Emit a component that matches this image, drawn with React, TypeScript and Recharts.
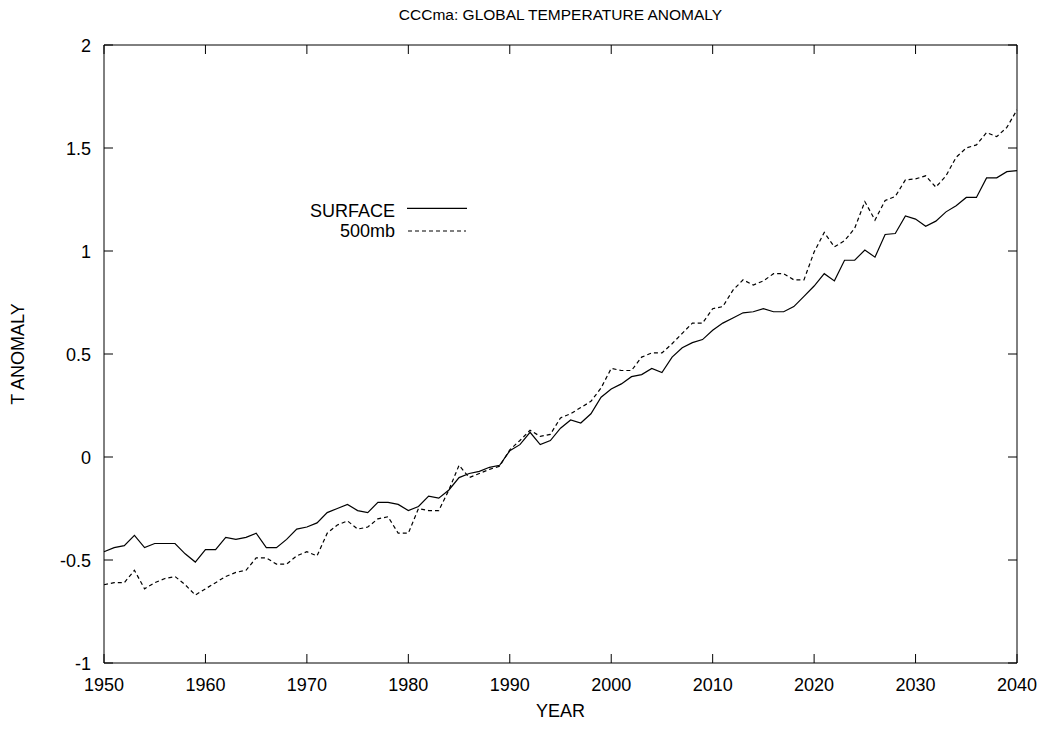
import { LineChart, Line, XAxis, YAxis, Legend, Label } from "recharts";

// years 1950..2040, one value per year for each level
const years = [
  1950, 1951, 1952, 1953, 1954, 1955, 1956, 1957, 1958, 1959,
  1960, 1961, 1962, 1963, 1964, 1965, 1966, 1967, 1968, 1969,
  1970, 1971, 1972, 1973, 1974, 1975, 1976, 1977, 1978, 1979,
  1980, 1981, 1982, 1983, 1984, 1985, 1986, 1987, 1988, 1989,
  1990, 1991, 1992, 1993, 1994, 1995, 1996, 1997, 1998, 1999,
  2000, 2001, 2002, 2003, 2004, 2005, 2006, 2007, 2008, 2009,
  2010, 2011, 2012, 2013, 2014, 2015, 2016, 2017, 2018, 2019,
  2020, 2021, 2022, 2023, 2024, 2025, 2026, 2027, 2028, 2029,
  2030, 2031, 2032, 2033, 2034, 2035, 2036, 2037, 2038, 2039,
  2040,
];

const surface = [
  -0.46, -0.44, -0.43, -0.38, -0.44, -0.42, -0.42, -0.42, -0.47, -0.51,
  -0.45, -0.45, -0.39, -0.4, -0.39, -0.37, -0.44, -0.44, -0.4, -0.35,
  -0.34, -0.32, -0.27, -0.25, -0.23, -0.26, -0.27, -0.22, -0.22, -0.23,
  -0.26, -0.24, -0.19, -0.2, -0.16, -0.1, -0.08, -0.07, -0.05, -0.04,
  0.03, 0.06, 0.12, 0.06, 0.08, 0.14, 0.18, 0.165, 0.21, 0.29,
  0.33, 0.355, 0.39, 0.4, 0.43, 0.41, 0.485, 0.53, 0.555, 0.57,
  0.615, 0.65, 0.675, 0.7, 0.705, 0.72, 0.705, 0.705, 0.73, 0.78,
  0.83, 0.89, 0.855, 0.955, 0.955, 1.005, 0.97, 1.08, 1.085, 1.17,
  1.155, 1.12, 1.145, 1.19, 1.22, 1.26, 1.26, 1.355, 1.355, 1.385,
  1.39,
];

const mb500 = [
  -0.62, -0.61, -0.61, -0.55, -0.64, -0.61, -0.59, -0.58, -0.62, -0.67,
  -0.64, -0.61, -0.58, -0.56, -0.55, -0.49, -0.49, -0.52, -0.52, -0.48,
  -0.46, -0.48, -0.37, -0.33, -0.31, -0.35, -0.34, -0.3, -0.29, -0.37,
  -0.37, -0.25, -0.26, -0.26, -0.16, -0.04, -0.1, -0.08, -0.06, -0.045,
  0.035, 0.08, 0.13, 0.1, 0.11, 0.19, 0.21, 0.24, 0.27, 0.335,
  0.43, 0.42, 0.42, 0.485, 0.505, 0.505, 0.55, 0.6, 0.65, 0.65,
  0.72, 0.73, 0.81, 0.86, 0.835, 0.855, 0.89, 0.89, 0.86, 0.86,
  0.995, 1.09, 1.02, 1.05, 1.11, 1.24, 1.15, 1.245, 1.265, 1.345,
  1.35, 1.365, 1.31, 1.365, 1.455, 1.5, 1.515, 1.575, 1.555, 1.6,
  1.685,
];

const xTicks = [1950, 1960, 1970, 1980, 1990, 2000, 2010, 2020, 2030, 2040];
const yTicks = [-1, -0.5, 0, 0.5, 1, 1.5, 2];

const data = years.map((year, i) => ({
  year,
  surface: surface[i],
  mb500: mb500[i],
}));

const FONT = "'Liberation Sans', Arial, Helvetica, sans-serif";
const TICK = 9;

const BottomTick = ({ x, y, payload }: any) => (
  <g>
    <line x1={x} y1={y} x2={x} y2={y - TICK} stroke="#000" />
    <text x={x} y={y + 28} textAnchor="middle" fontSize={18} fill="#000">
      {payload.value}
    </text>
  </g>
);

const LeftTick = ({ x, y, payload }: any) => (
  <g>
    <line x1={x} y1={y} x2={x + TICK} y2={y} stroke="#000" />
    <text x={x - 13} y={y + 6.5} textAnchor="end" fontSize={18} fill="#000">
      {payload.value}
    </text>
  </g>
);

// mirrored ticks on the top and right frame, pointing inward
const TopTick = ({ x, y }: any) => (
  <line x1={x} y1={y} x2={x} y2={y + TICK} stroke="#000" />
);

const RightTick = ({ x, y }: any) => (
  <line x1={x} y1={y} x2={x - TICK} y2={y} stroke="#000" />
);

const renderLegend = () => (
  <svg width={200} height={50} style={{ display: "block" }}>
    <text x={115} y={21.7} textAnchor="end" fontSize={18} fill="#000">
      SURFACE
    </text>
    <line x1={127} y1={13.3} x2={187} y2={13.3} stroke="#000" strokeWidth={1.2} />
    <text x={115} y={42} textAnchor="end" fontSize={18} fill="#000">
      500mb
    </text>
    <line
      x1={128}
      y1={36}
      x2={186}
      y2={36}
      stroke="#000"
      strokeWidth={1.2}
      strokeDasharray="4 3"
    />
  </svg>
);

const App = () => {
  return (
    <div style={{ margin: "-8px 0 0 -8px", fontFamily: FONT }}>
      <LineChart
        width={1045}
        height={721}
        data={data}
        margin={{ top: 44, right: 27, left: 0, bottom: 0 }}
        style={{ fontFamily: FONT }}
      >
        <XAxis
          dataKey="year"
          type="number"
          domain={[1950, 2040]}
          ticks={xTicks}
          interval={0}
          height={58}
          tickSize={0}
          tickMargin={0}
          tickLine={false}
          tick={BottomTick}
          axisLine={{ stroke: "#000" }}
        >
          <Label
            value="YEAR"
            position="insideBottom"
            offset={4}
            fontSize={18}
            fill="#000"
          />
        </XAxis>
        <XAxis
          xAxisId="top"
          orientation="top"
          dataKey="year"
          type="number"
          domain={[1950, 2040]}
          allowDataOverflow
          ticks={xTicks}
          interval={0}
          height={1}
          tickSize={0}
          tickMargin={0}
          tickLine={false}
          tick={TopTick}
          axisLine={{ stroke: "#000" }}
        >
          <Label
            value="CCCma: GLOBAL TEMPERATURE ANOMALY"
            position="top"
            offset={24}
            fontSize={15.5}
            fill="#000"
          />
        </XAxis>
        <YAxis
          type="number"
          domain={[-1, 2]}
          ticks={yTicks}
          interval={0}
          width={104}
          tickSize={0}
          tickMargin={0}
          tickLine={false}
          tick={LeftTick}
          axisLine={{ stroke: "#000" }}
        >
          <Label
            value="T ANOMALY"
            angle={-90}
            position="insideLeft"
            offset={18}
            textAnchor="middle"
            fontSize={18}
            fill="#000"
          />
        </YAxis>
        <YAxis
          yAxisId="right"
          orientation="right"
          type="number"
          domain={[-1, 2]}
          allowDataOverflow
          ticks={yTicks}
          interval={0}
          width={1}
          tickSize={0}
          tickMargin={0}
          tickLine={false}
          tick={RightTick}
          axisLine={{ stroke: "#000" }}
        />
        <Legend
          layout="vertical"
          align="center"
          verticalAlign="middle"
          content={renderLegend}
          wrapperStyle={{ left: 280, top: 195, width: 200, height: 50 }}
        />
        <Line
          type="linear"
          dataKey="surface"
          stroke="#000"
          strokeWidth={1.2}
          dot={false}
          isAnimationActive={false}
        />
        <Line
          type="linear"
          dataKey="mb500"
          stroke="#000"
          strokeWidth={1.2}
          strokeDasharray="4 3"
          dot={false}
          isAnimationActive={false}
        />
      </LineChart>
    </div>
  );
};

export default App;
